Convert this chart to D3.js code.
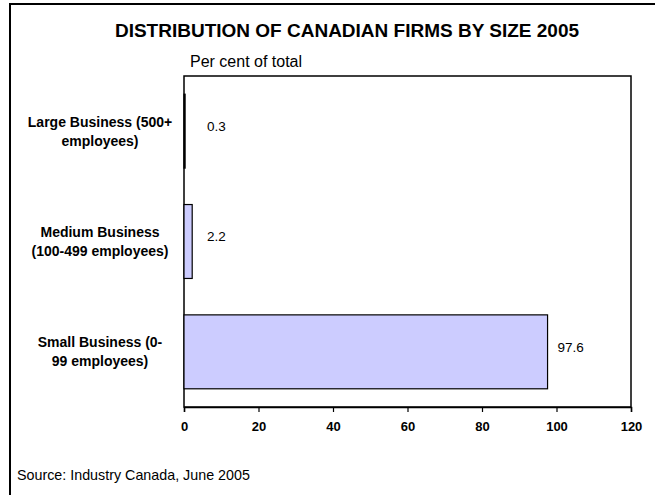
<!DOCTYPE html>
<html>
<head>
<meta charset="utf-8">
<script src="https://cdn.jsdelivr.net/npm/d3@7"></script>
<style>
  body { margin: 0; background: #fff; }
  text { font-family: Arial, "Liberation Sans", sans-serif; }
</style>
</head>
<body>
<div id="chart"></div>
<script>
'use strict';

// Chart data
const categories = [
  ["Large Business (500+", "employees)"],
  ["Medium Business", "(100-499 employees)"],
  ["Small Business (0-", "99 employees)"]
];
const values = [0.3, 2.2, 97.6];
const xTicks = [0, 20, 40, 60, 80, 100, 120];

const width = 655;
const height = 495;
const margin = {top: 76, right: 24, bottom: 88, left: 184};

const svg = d3.select("#chart").append("svg")
    .attr("width", width)
    .attr("height", height);

// Outer frame (right and bottom edges fall outside the picture)
svg.append("rect")
    .attr("x", 10)
    .attr("y", 4)
    .attr("width", width)
    .attr("height", height)
    .attr("fill", "none")
    .attr("stroke", "#000")
    .attr("stroke-width", 2);

const x = d3.scaleLinear()
    .domain([0, 120])
    .range([margin.left, width - margin.right]);

const y = d3.scaleBand()
    .domain(d3.range(values.length))
    .range([margin.top, height - margin.bottom])
    .paddingInner(0.33)
    .paddingOuter(0.165);

// Plot area border
svg.append("rect")
    .attr("x", x(0))
    .attr("y", margin.top)
    .attr("width", x(120) - x(0))
    .attr("height", height - margin.bottom - margin.top)
    .attr("fill", "none")
    .attr("stroke", "#000")
    .attr("stroke-width", 1.5);

// Bars
svg.selectAll(".bar")
  .data(values)
  .join("rect")
    .attr("class", "bar")
    .attr("x", x(0))
    .attr("y", (d, i) => y(i))
    .attr("width", d => x(d) - x(0))
    .attr("height", y.bandwidth())
    .attr("fill", "#ccccff")
    .attr("stroke", "#000")
    .attr("stroke-width", 1.2);

// Value labels
svg.selectAll(".val")
  .data(values)
  .join("text")
    .attr("class", "val")
    .attr("x", d => Math.max(x(d) + 10, x(0) + 23))
    .attr("y", (d, i) => y(i) + y.bandwidth() / 2 - 5)
    .attr("dy", "0.35em")
    .attr("font-size", 13.5)
    .text(d => d);

// X axis
const xAxis = svg.append("g")
    .attr("transform", `translate(0,${height - margin.bottom})`)
    .call(d3.axisBottom(x).tickValues(xTicks).tickSize(5).tickPadding(10));
xAxis.select(".domain").attr("stroke-width", 1.5);
xAxis.selectAll(".tick line").attr("stroke-width", 1.2);
xAxis.selectAll("text")
    .attr("font-size", 13)
    .attr("font-weight", "bold")
    .attr("font-family", "Arial, 'Liberation Sans', sans-serif")
    .attr("fill", "#000");

// Category labels
const cat = svg.selectAll(".cat")
  .data(categories)
  .join("text")
    .attr("class", "cat")
    .attr("text-anchor", "middle")
    .attr("font-size", 14)
    .attr("font-weight", "bold");
cat.selectAll("tspan")
  .data((d, i) => d.map(line => ({line, i, n: d.length})))
  .join("tspan")
    .attr("x", 100)
    .attr("y", (d, j) => y(d.i) + y.bandwidth() / 2 + (j - (d.n - 1) / 2) * 19)
    .attr("dy", "0.35em")
    .text(d => d.line);

// Title and notes
svg.append("text")
    .attr("x", 347)
    .attr("y", 37)
    .attr("text-anchor", "middle")
    .attr("font-size", 19)
    .attr("font-weight", "bold")
    .text("DISTRIBUTION OF CANADIAN FIRMS BY SIZE 2005");

svg.append("text")
    .attr("x", 190)
    .attr("y", 67)
    .attr("font-size", 16)
    .text("Per cent of total");

svg.append("text")
    .attr("x", 17)
    .attr("y", 480)
    .attr("font-size", 14.3)
    .text("Source: Industry Canada, June 2005");
</script>
</body>
</html>
